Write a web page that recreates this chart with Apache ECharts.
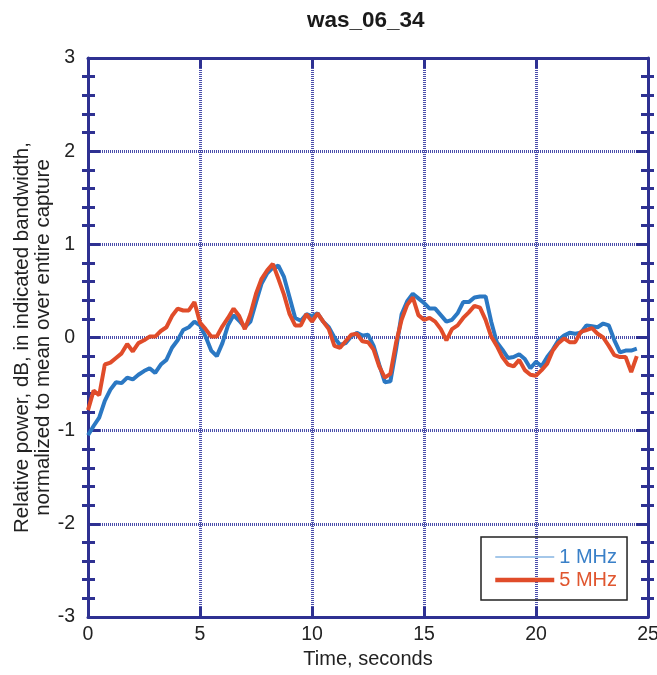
<!DOCTYPE html>
<html><head><meta charset="utf-8">
<script src="https://cdn.jsdelivr.net/npm/echarts@6/dist/echarts.min.js"></script>
<style>html,body{margin:0;padding:0;background:#fff}#c{width:657px;height:675px}</style>
</head><body><div id="c"></div>
<script>
const chartTitle = 'was_06_34';
const xName = 'Time, seconds';
const yName = 'Relative power, dB, in indicated bandwidth,\nnormalized to mean over entire capture';
const seriesNames = ['1 MHz', '5 MHz'];
const xTicks = [0, 5, 10, 15, 20, 25];
const yTicks = [-3, -2, -1, 0, 1, 2, 3];
const times = [0,0.25,0.5,0.75,1,1.25,1.5,1.75,2,2.25,2.5,2.75,3,3.25,3.5,3.75,4,4.25,4.5,4.75,
  5,5.25,5.5,5.75,6,6.25,6.5,6.75,7,7.25,7.5,7.75,8,8.25,8.5,8.75,9,9.25,9.5,9.75,
  10,10.25,10.5,10.75,11,11.25,11.5,11.75,12,12.25,12.5,12.75,13,13.25,13.5,13.75,14,14.25,14.5,14.75,
  15,15.25,15.5,15.75,16,16.25,16.5,16.75,17,17.25,17.5,17.75,18,18.25,18.5,18.75,19,19.25,19.5,19.75,
  20,20.25,20.5,20.75,21,21.25,21.5,21.75,22,22.25,22.5,22.75,23,23.25,23.5,23.75,24,24.25,24.5];
const mhz1 = [-1.05,-0.95,-0.86,-0.68,-0.56,-0.48,-0.49,-0.43,-0.45,-0.40,-0.36,-0.33,-0.38,-0.29,-0.24,-0.11,-0.03,0.08,0.11,0.17,
  0.13,0.01,-0.14,-0.20,-0.06,0.13,0.24,0.18,0.11,0.17,0.38,0.58,0.69,0.75,0.77,0.65,0.43,0.21,0.18,0.25,
  0.23,0.26,0.17,0.11,0.00,-0.08,-0.06,0.01,0.05,0.02,0.03,-0.09,-0.29,-0.48,-0.47,-0.13,0.25,0.39,0.47,0.42,
  0.37,0.31,0.31,0.24,0.17,0.19,0.26,0.38,0.38,0.43,0.44,0.44,0.17,-0.05,-0.13,-0.22,-0.21,-0.18,-0.23,-0.33,
  -0.26,-0.31,-0.21,-0.13,-0.03,0.02,0.05,0.04,0.05,0.13,0.12,0.11,0.15,0.13,-0.03,-0.16,-0.14,-0.14,-0.12];
const mhz5 = [-0.78,-0.57,-0.62,-0.29,-0.27,-0.22,-0.17,-0.07,-0.15,-0.06,-0.03,0.01,0.01,0.07,0.11,0.23,0.31,0.29,0.29,0.38,
  0.16,0.09,0.01,0.01,0.12,0.21,0.31,0.23,0.09,0.25,0.47,0.63,0.72,0.79,0.63,0.46,0.25,0.13,0.13,0.25,
  0.17,0.26,0.17,0.09,-0.09,-0.11,-0.04,0.03,0.04,-0.04,-0.05,-0.13,-0.31,-0.43,-0.39,-0.06,0.19,0.35,0.43,0.24,
  0.19,0.21,0.17,0.09,-0.03,0.09,0.13,0.21,0.27,0.34,0.32,0.19,0.01,-0.09,-0.21,-0.29,-0.31,-0.24,-0.35,-0.40,
  -0.41,-0.35,-0.28,-0.14,-0.06,-0.01,-0.05,-0.05,0.06,0.08,0.10,0.04,0.00,-0.09,-0.19,-0.21,-0.21,-0.37,-0.20];

const NAVY = '#2e3192';
const GRIDC = '#4a4eab';
const BLUE = '#2b78c3';
const RED = '#e04c2a';
const FONT = '"Liberation Sans", Arial, Helvetica, sans-serif';

const xMin = xTicks[0], xMax = xTicks[xTicks.length-1], xInt = xTicks[1]-xTicks[0];
const yMin = yTicks[0], yMax = yTicks[yTicks.length-1], yInt = yTicks[1]-yTicks[0];

const chart = echarts.init(document.getElementById('c'), null, {renderer:'canvas'});
const gridRect = {left:88, right:9, top:58, bottom:58, containLabel:false, outerBoundsMode:'none'};
const axisLine = {show:true, onZero:false, lineStyle:{color:NAVY, width:3}};
const majorTick = (len)=>({show:true, inside:true, length:len, lineStyle:{color:NAVY, width:3}});
const split = {show:true, lineStyle:{color:GRIDC, width:3, type:[1,1]}};

chart.setOption({
  animation:false,
  backgroundColor:'#fff',
  title:{text:chartTitle, left:302, top:4, textStyle:{fontFamily:FONT, fontSize:22.5, fontWeight:'bold', color:'#1a1a1a'}},
  grid:[Object.assign({}, gridRect), Object.assign({}, gridRect)],
  legend:{
    left:481, top:537, orient:'vertical', padding:[10,10,10,12], itemGap:3,
    itemWidth:59, itemHeight:18, borderColor:'#222', borderWidth:1.5,
    backgroundColor:'transparent', selectedMode:false,
    textStyle:{fontFamily:FONT, fontSize:20},
    data:[
      {name:seriesNames[0], textStyle:{color:'#3a80c8'}, itemStyle:{opacity:0, borderWidth:0}, lineStyle:{width:1.5, color:'#86b4e2', opacity:1}},
      {name:seriesNames[1], textStyle:{color:'#e0562f'}, itemStyle:{opacity:0, borderWidth:0}, lineStyle:{width:4.5, color:RED, opacity:1}}
    ]
  },
  xAxis:[
    {gridIndex:0, type:'value', position:'bottom', min:xMin, max:xMax, interval:xInt,
     axisLine:axisLine, axisTick:majorTick(10),
     axisLabel:{fontFamily:FONT, fontSize:19.5, color:'#222', margin:8},
     splitLine:split,
     name:xName, nameLocation:'middle', nameGap:32, nameMoveOverlap:false,
     nameTextStyle:{fontFamily:FONT, fontSize:20, color:'#222'}},
    {gridIndex:0, type:'value', position:'top', min:xMin, max:xMax, interval:xInt,
     axisLine:axisLine, axisTick:majorTick(10), axisLabel:{show:false}, splitLine:{show:false}},
    {gridIndex:1, type:'value', min:xMin, max:xMax, interval:xInt, show:false}
  ],
  yAxis:[
    {gridIndex:0, type:'value', position:'left', min:yMin, max:yMax, interval:yInt,
     axisLine:axisLine, axisTick:majorTick(12),
     minorTick:{show:true, splitNumber:5, length:7, lineStyle:{color:NAVY, width:3}},
     axisLabel:{fontFamily:FONT, fontSize:19.5, color:'#222', margin:13},
     splitLine:split,
     name:yName, nameLocation:'middle', nameRotate:90, nameGap:34, nameMoveOverlap:false,
     nameTextStyle:{fontFamily:FONT, fontSize:20.5, color:'#222', lineHeight:21, align:'center'}},
    {gridIndex:0, type:'value', position:'right', min:yMin, max:yMax, interval:yInt,
     axisLine:axisLine, axisTick:majorTick(12),
     minorTick:{show:true, splitNumber:5, length:7, lineStyle:{color:NAVY, width:3}},
     axisLabel:{show:false}, splitLine:{show:false}},
    {gridIndex:1, type:'value', position:'left', min:yMin, max:yMax, interval:yInt,
     axisLine:{show:false}, axisTick:{show:false, inside:false},
     minorTick:{show:true, splitNumber:5, length:6, lineStyle:{color:NAVY, width:3}},
     axisLabel:{show:false}, splitLine:{show:false}},
    {gridIndex:1, type:'value', position:'right', min:yMin, max:yMax, interval:yInt,
     axisLine:{show:false}, axisTick:{show:false, inside:false},
     minorTick:{show:true, splitNumber:5, length:6, lineStyle:{color:NAVY, width:3}},
     axisLabel:{show:false}, splitLine:{show:false}}
  ],
  series:[
    {name:seriesNames[0], type:'line', xAxisIndex:0, yAxisIndex:0, symbol:'none',
     data:times.map((t,i)=>[t, mhz1[i]]),
     lineStyle:{color:BLUE, width:4}, itemStyle:{color:BLUE}, z:3},
    {name:seriesNames[1], type:'line', xAxisIndex:0, yAxisIndex:0, symbol:'none',
     data:times.map((t,i)=>[t, mhz5[i]]),
     lineStyle:{color:RED, width:4}, itemStyle:{color:RED}, z:4}
  ]
});
</script>
</body></html>
